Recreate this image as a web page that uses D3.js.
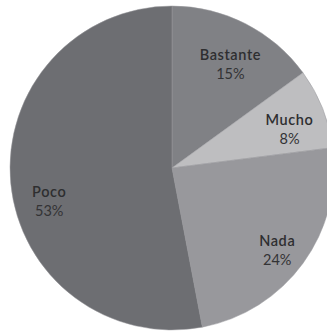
<!DOCTYPE html>
<html>
<head>
<meta charset="utf-8">
<script src="https://cdn.jsdelivr.net/npm/d3@7"></script>
<style>
  html, body { margin: 0; padding: 0; background: #ffffff; }
  svg { display: block; }
</style>
</head>
<body>
<svg id="chart" width="327" height="333"></svg>
<script>
// Answer categories, clockwise from 12 o'clock
const categories = ["Bastante", "Mucho", "Nada", "Poco"];
const values = [15, 8, 24, 53];
const percentLabels = ["15%", "8%", "24%", "53%"];
const sliceColors = ["#808185", "#bebec0", "#98989c", "#6d6e72"];

const svg = d3.select("#chart");
const cx = 172, cy = 168, radius = 162;

const g = svg.append("g").attr("transform", `translate(${cx},${cy})`);

const pie = d3.pie().sort(null).value(d => d.value);
const data = categories.map((c, i) => ({ name: c, value: values[i], pct: percentLabels[i], color: sliceColors[i] }));
const arcs = pie(data);

const arc = d3.arc().innerRadius(0).outerRadius(radius);

g.selectAll("path.slice")
  .data(arcs)
  .join("path")
  .attr("class", "slice")
  .attr("d", arc)
  .attr("fill", d => d.data.color)
  .attr("stroke", "#9a9a9e")
  .attr("stroke-width", 0.5);

// Labels sit inside each slice, name above percentage; small per-slice nudges
const labelArc = d3.arc().innerRadius(radius * 0.78).outerRadius(radius * 0.78);
const labelNudge = [[1, 9], [0, 8], [3, 8], [3, 21]];

const labels = g.selectAll("g.label")
  .data(arcs)
  .join("g")
  .attr("class", "label")
  .attr("transform", (d, i) => {
    const [x, y] = labelArc.centroid(d);
    return `translate(${x + labelNudge[i][0]},${y + labelNudge[i][1]})`;
  });

labels.append("text")
  .attr("text-anchor", "middle")
  .attr("y", -4)
  .attr("font-family", "Lato, 'Open Sans', sans-serif")
  .attr("font-size", 14.5)
  .attr("font-weight", 600)
  .attr("letter-spacing", 0.6)
  .attr("fill", "#2e2e30")
  .text(d => d.data.name);

labels.append("text")
  .attr("text-anchor", "middle")
  .attr("y", 15)
  .attr("font-family", "Lato, 'Open Sans', sans-serif")
  .attr("font-size", 14.5)
  .attr("fill", "#333335")
  .text(d => d.data.pct);
</script>
</body>
</html>
